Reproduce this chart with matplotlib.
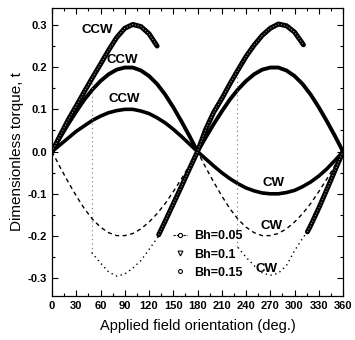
import numpy as np
import matplotlib as mpl
mpl.use('Agg')
import matplotlib.pyplot as plt
from matplotlib.lines import Line2D

#%% Valores

ang = [0, 10, 20, 30, 40, 50, 60, 70, 80, 90, 100, 110, 120, 130, 140, 150, 160, 170, 180,
       190, 200, 210, 220, 230, 240, 250, 260, 270, 280, 290, 300, 310, 320, 330, 340, 350, 360]

# Bh=0.05 (CCW y CW coinciden)
t05 = [0.000, 0.016, 0.032, 0.048, 0.061, 0.074, 0.084, 0.092, 0.097, 0.100, 0.100, 0.096,
       0.090, 0.080, 0.068, 0.053, 0.036, 0.018, 0.000,
       -0.017, -0.034, -0.050, -0.064, -0.076, -0.086, -0.093, -0.098, -0.100, -0.100, -0.097,
       -0.092, -0.083, -0.072, -0.058, -0.041, -0.021, 0.000]

# Bh=0.1
t10_ccw = [0.000, 0.033, 0.065, 0.095, 0.123, 0.147, 0.167, 0.183, 0.194, 0.199, 0.199, 0.192,
           0.179, 0.160, 0.135, 0.105, 0.072, 0.037, 0.000,
           0.033, 0.065, 0.095, 0.123, 0.147, 0.167, 0.183, 0.194, 0.199, 0.199, 0.192,
           0.179, 0.160, 0.135, 0.105, 0.072, 0.037, 0.000]
t10_cw = [0.000, -0.037, -0.072, -0.105, -0.135, -0.160, -0.179, -0.192, -0.199, -0.199, -0.194,
          -0.183, -0.167, -0.147, -0.123, -0.095, -0.065, -0.033, 0.000,
          -0.037, -0.072, -0.105, -0.135, -0.160, -0.179, -0.192, -0.199, -0.199, -0.194,
          -0.183, -0.167, -0.147, -0.123, -0.095, -0.065, -0.033, 0.000]

# Bh=0.15, rama CCW (tres tramos con saltos)
ang15_a = [0, 10, 20, 30, 40, 50, 60, 70, 80, 90, 100, 110, 120, 130]
t15_a = [0.000, 0.038, 0.075, 0.108, 0.142, 0.175, 0.207, 0.240, 0.270, 0.292, 0.301, 0.296,
         0.279, 0.250]
ang15_b = [132, 140, 150, 160, 170, 180, 190, 200, 210, 220, 230, 240, 250, 260, 270, 280,
           290, 300, 311]
t15_b = [-0.197, -0.165, -0.124, -0.083, -0.041, 0.000, 0.052, 0.093, 0.125, 0.160, 0.193,
         0.225, 0.252, 0.275, 0.292, 0.302, 0.298, 0.283, 0.253]
ang15_c = [316, 320, 330, 340, 350, 360]
t15_c = [-0.190, -0.175, -0.134, -0.090, -0.045, 0.000]

# Bh=0.15, rama CW (punteada)
ang15cw_b = [49, 60, 70, 80, 90, 100, 110, 120, 133, 140, 150, 160, 170, 180, 190, 200, 210,
             220, 229]
t15cw_b = [-0.239, -0.264, -0.285, -0.295, -0.290, -0.276, -0.258, -0.232, -0.197, -0.165,
           -0.124, -0.083, -0.041, 0.000, 0.045, 0.090, 0.130, 0.165, 0.195]
ang15cw_c = [230, 240, 250, 260, 270, 280, 290, 300, 310, 316]
t15cw_c = [-0.227, -0.250, -0.270, -0.287, -0.293, -0.288, -0.270, -0.235, -0.205, -0.190]

# saltos verticales de la rama CW
jump_ang = [49, 229]
jump_top = [0.175, 0.195]
jump_bot = [-0.239, -0.227]

labels_ccw = [(56, 0.288), (87, 0.218), (89, 0.124)]
labels_cw = [(274, -0.075), (272, -0.176), (265, -0.277)]

#%% Figura

plt.rcParams['font.family'] = ['Liberation Sans', 'DejaVu Sans']
plt.rcParams['axes.unicode_minus'] = False

fig = plt.figure(figsize=(3.55, 3.40), dpi=100)
ax = fig.add_axes([0.1465, 0.1294, 0.8197, 0.8471])

ax.plot(ang, t05, color='k', lw=2.6)
ax.plot(ang, t10_ccw, color='k', lw=2.8)
ax.plot(ang, t10_cw, color='k', lw=1.0, ls=(0, (3, 2.5)))

ax.vlines(jump_ang, jump_bot, jump_top, color='0.45', lw=0.8, linestyles=(0, (1, 3)))
ax.plot(ang15cw_b, t15cw_b, color='k', lw=1.0, ls=(0, (1, 2.5)))
ax.plot(ang15cw_c, t15cw_c, color='k', lw=1.0, ls=(0, (1, 2.5)))

for a, t in [(ang15_a, t15_a), (ang15_b, t15_b), (ang15_c, t15_c)]:
    ax.plot(a, t, color='k', lw=3.6, solid_capstyle='round')
    ax.plot(a, t, color='0.7', lw=0.7, ls=(0, (1, 2)))

for x, y in labels_ccw:
    ax.text(x, y, 'CCW', ha='center', va='center', fontsize=9.5, fontweight='bold')
for x, y in labels_cw:
    ax.text(x, y, 'CW', ha='center', va='center', fontsize=9.5, fontweight='bold')

# leyenda solo con marcadores
hdls = [Line2D([], [], color='k', lw=0.8, ls=(0, (2, 1)), marker='o', ms=3, mfc='w', mew=0.8),
        Line2D([], [], color='k', lw=0, marker='v', ms=3.5, mfc='w', mew=0.8),
        Line2D([], [], color='k', lw=0, marker='o', ms=2.8, mfc='w', mew=0.8)]
ax.legend(hdls, ['Bh=0.05', 'Bh=0.1', 'Bh=0.15'], loc='upper left',
          bbox_to_anchor=(0.415, 0.228), frameon=False,
          prop={'weight': 'bold', 'size': 9}, handlelength=1.1, handletextpad=0.6,
          labelspacing=0.5, borderpad=0, borderaxespad=0)

ax.set_xlim(0, 360)
ax.set_ylim(-0.342, 0.34)
ax.set_xticks(np.arange(0, 361, 30))
ax.set_xticks(np.arange(0, 361, 15), minor=True)
ax.set_yticks([-0.3, -0.2, -0.1, 0.0, 0.1, 0.2, 0.3])
ax.set_yticks(np.arange(-0.3, 0.31, 0.05), minor=True)
ax.set_yticklabels(['-0.3', '-0.2', '-0.1', '0.0', '0.1', '0.2', '0.3'])

ax.tick_params(which='both', direction='in', top=True, right=True, width=0.8)
ax.tick_params(which='major', length=4, pad=3.5, labelsize=8)
ax.tick_params(which='minor', length=2)
for lab in ax.get_xticklabels() + ax.get_yticklabels():
    lab.set_fontweight('bold')
for sp in ax.spines.values():
    sp.set_linewidth(0.9)

ax.set_xlabel('Applied field orientation (deg.)', fontsize=10.5, labelpad=6)
ax.set_ylabel('Dimensionless torque, t', fontsize=11, labelpad=3)

fig.savefig('out.png', dpi=100)
